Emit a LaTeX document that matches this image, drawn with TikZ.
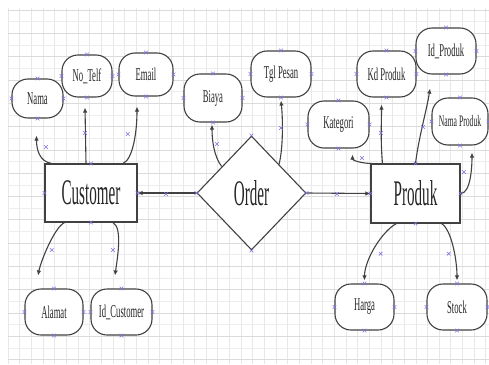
\documentclass[tikz,border=0pt]{standalone}
\usepackage{fontspec}
\setmainfont{Liberation Serif}
\newfontfamily\condA[FakeStretch=0.48]{Liberation Serif}
\newfontfamily\condB[FakeStretch=0.42]{Liberation Serif}
\usetikzlibrary{shapes.geometric,arrows.meta,calc}
\definecolor{mk}{RGB}{125,115,225}
\definecolor{ln}{RGB}{65,65,65}
\tikzset{
  attr/.style={draw=ln, line width=1.1pt, fill=white, rounded corners=16pt,
    inner sep=0pt, text=black!85, font=\condA\fontsize{18}{18}\selectfont},
  ent/.style={draw=ln, line width=1.1pt, fill=white, inner sep=0pt,
    text=black!85, font=\condB\fontsize{36}{36}\selectfont},
  rel/.style={draw=ln, line width=1.1pt, fill=white, shape=diamond, inner sep=0pt,
    text=black!85, font=\condB\fontsize{36}{36}\selectfont},
  conn/.style={draw=ln, line width=1.1pt, -{Latex[length=5pt,width=4.5pt]}},
  xm/.style={draw=mk, line width=0.6pt},
  gridv/.style={draw=black!9, line width=0.5pt},
  gridh/.style={draw=black!14, line width=0.6pt},
  gridh2/.style={draw=black!7, line width=0.4pt}
}
\newcommand{\xmark}[1]{\draw[xm] #1 +(-1.8,-1.8) -- +(1.8,1.8) +(-1.8,1.8) -- +(1.8,-1.8);}
\begin{document}
\begin{tikzpicture}[x=1pt,y=-1pt]
\useasboundingbox (0,0) rectangle (489,364);
\fill[white] (0,0) rectangle (489,364);
% grid
\foreach \i in {0,...,41} { \draw[gridv] ({8+\i*11.65},8) -- ({8+\i*11.65},364); }
\foreach \j in {0,...,15} { \draw[gridh] (8,{10+\j*23.3}) -- (489,{10+\j*23.3}); }
\foreach \j in {0,...,15} { \draw[gridh2] (8,{21.65+\j*23.3}) -- (489,{21.65+\j*23.3}); }

% nodes
\node[ent, minimum width=92pt, minimum height=58pt] (cust) at (91,193) {Customer};
\node[ent, minimum width=89pt, minimum height=59pt] (prod) at (415.5,193.5) {Produk};
\node[rel, minimum width=109pt, minimum height=114pt] (order) at (251.5,193) {Order};

\node[attr, minimum width=51pt, minimum height=39pt] (nama) at (37.5,98.5) {Nama};
\node[attr, minimum width=50pt, minimum height=42pt] (telf) at (87,76) {No\_Telf};
\node[attr, minimum width=54pt, minimum height=43pt] (email) at (146,74.5) {Email};
\node[attr, minimum width=58pt, minimum height=48pt] (biaya) at (213,98) {Biaya};
\node[attr, minimum width=60pt, minimum height=46pt] (tgl) at (281,74) {Tgl Pesan};
\node[attr, minimum width=59pt, minimum height=46pt] (kd) at (386.5,74) {Kd Produk};
\node[attr, minimum width=60pt, minimum height=46pt] (idp) at (446,51) {Id\_Produk};
\node[attr, minimum width=61pt, minimum height=47pt] (kat) at (338.5,124.5) {Kategori};
\node[attr, minimum width=56pt, minimum height=47pt, font=\condA\fontsize{16}{16}\selectfont] (np) at (460,121.5) {Nama Produk};
\node[attr, minimum width=58pt, minimum height=46pt] (alamat) at (54,312) {Alamat};
\node[attr, minimum width=61pt, minimum height=46pt] (idc) at (121.5,312) {Id\_Customer};
\node[attr, minimum width=59pt, minimum height=46pt] (harga) at (364.5,307) {Harga};
\node[attr, minimum width=60pt, minimum height=46pt] (stock) at (457,307) {Stock};

% connectors
\draw[conn] ($(cust.north west)+(7,0)$) .. controls +(-12,-2) and +(0,14) .. ($(nama.south)+(-1,17)$);
\draw[conn] ($(cust.north)+(-5,0)$) -- ($(telf.south)+(-2,10)$);
\draw[conn] ($(cust.north)+(32,0)$) .. controls +(10,-4) and +(0,25) .. ($(email.south)+(-9,10)$);
\draw[conn] ($(order.west)!0.46!(order.north)$) .. controls +(-8,-10) and +(0,15) .. ($(biaya.south)+(-1,2)$);
\draw[conn] ($(order.north)!0.5!(order.east)$) .. controls +(4,-15) and +(2,20) .. ($(tgl.south)+(0,3)$);
\draw[conn] (order.west) -- (cust.east);
\draw[conn] (order.east) -- (prod.west);
\draw[conn] ($(prod.north west)+(1.5,0)$) .. controls +(-10,0) and +(0,6) .. ($(kat.south)+(14,6)$);
\draw[conn] ($(prod.north west)+(12,0)$) .. controls +(-2,-25) and +(0,20) .. ($(kd.south)+(-5,7)$);
\draw[conn] (prod.north) .. controls +(3,-25) and +(-3,20) .. ($(idp.south)+(-16,14)$);
\draw[conn] (prod.east) .. controls +(10,0) and +(0,15) .. ($(np.south)+(12,7)$);
\draw[conn] ($(cust.south west)+(20,0)$) .. controls +(-10,5) and +(3,-15) .. ($(alamat.north)+(-16,-13)$);
\draw[conn] ($(cust.south)+(22,0)$) .. controls +(10,5) and +(2,-15) .. ($(idc.north)+(-6.5,-13)$);
\draw[conn] ($(prod.south west)+(26,0)$) .. controls +(-15,8) and +(0,-20) .. ($(harga.north)+(0,-3)$);
\draw[conn] ($(prod.south east)+(-19,0)$) .. controls +(10,6) and +(0,-20) .. ($(stock.north)+(0,-3)$);

% connection point markers on nodes
\foreach \n in {cust,prod,order,nama,telf,email,biaya,tgl,kd,idp,kat,np,alamat,idc,harga,stock} {
  \foreach \a in {north,south,east,west} { \xmark{(\n.\a)} }
}
% connector markers
\foreach \p in {(46,147),(85,133),(127.7,134),(217,144),(281,128),(362,158),(381,133),(423,127),(464,172),(166,194),(337,194),(51.7,250),(113,250),(380.7,253.7),(448.7,253.7)} {
  \xmark{\p}
}
\end{tikzpicture}
\end{document}
